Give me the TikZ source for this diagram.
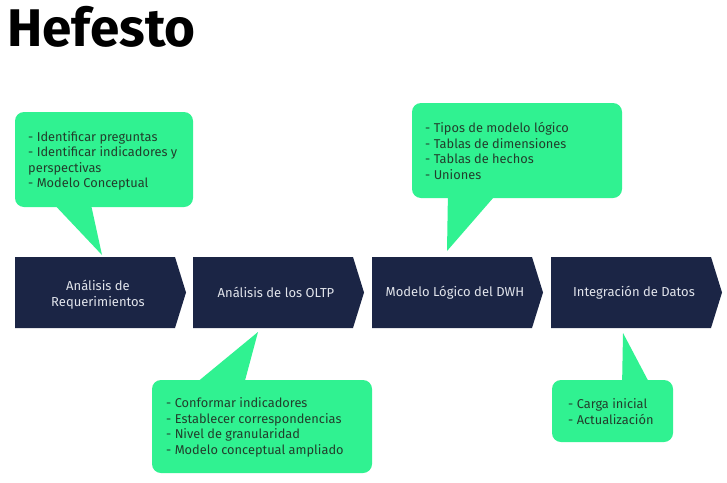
\documentclass[tikz,border=0pt]{standalone}
\usepackage{fontspec}
\setmainfont{Fira Sans}
\begin{document}
\definecolor{navy}{RGB}{27,37,69}
\definecolor{mint}{RGB}{48,242,145}
\definecolor{bubbletext}{RGB}{34,62,44}
\definecolor{steptext}{RGB}{225,228,235}
\tikzset{
  stepshape/.style={fill=navy},
  steplabel/.style={text=steptext, font=\fontsize{13}{16}\selectfont, align=center, inner sep=0pt},
  bubble/.style={fill=mint, rounded corners=9pt},
  tail/.style={fill=mint},
  bubblelabel/.style={text=bubbletext, font=\fontsize{12.8}{15.6}\selectfont, align=left, anchor=north west, inner sep=0pt},
}
\begin{tikzpicture}[x=1pt,y=-1pt]
\useasboundingbox[fill=white] (0,0) rectangle (727,482);

% title
\node[anchor=base west, inner sep=0pt, font=\fontsize{53}{53}\selectfont\bfseries] (title) at (7,46) {Hefesto};

% process steps (arrow-shaped boxes)
\foreach \l/\n in {15/s1,193/s2,372/s3,551/s4}{
  \fill[stepshape] (\l,257) -- (\l+160,257) -- (\l+171,292.5) -- (\l+160,328) -- (\l,328) -- cycle;
  \coordinate (\n) at (\l+83,292.5);
}
\node[steplabel] (t1) at ([yshift=-2pt]s1) {Análisis de\\Requerimientos};
\node[steplabel] (t2) at (s2) {Análisis de los OLTP};
\node[steplabel] (t3) at (s3) {Modelo Lógico del DWH};
\node[steplabel] (t4) at (s4) {Integración de Datos};

% speech bubbles with their pointers
\fill[tail] (50,200) -- (102,255) -- (90,200) -- cycle;
\fill[bubble] (15,112) rectangle (193,207);
\node[bubblelabel] (b1) at (28,131) {- Identificar preguntas\\- Identificar indicadores y\\perspectivas\\- Modelo Conceptual};

\fill[tail] (448,190) -- (447,251) -- (500,190) -- cycle;
\fill[bubble] (412,103) rectangle (622,198);
\node[bubblelabel] (b2) at (425,122) {- Tipos de modelo lógico\\- Tablas de dimensiones\\- Tablas de hechos\\- Uniones};

\fill[tail] (190,388) -- (258,332) -- (243,388) -- cycle;
\fill[bubble] (152,380) rectangle (372,473);
\node[bubblelabel] (b3) at (166,397.5) {- Conformar indicadores\\- Establecer correspondencias\\- Nivel de granularidad\\- Modelo conceptual ampliado};

\fill[tail] (622,388) -- (623,333) -- (652,388) -- cycle;
\fill[bubble] (552,380) rectangle (673,442);
\node[bubblelabel] (b4) at (568,398.5) {- Carga inicial\\- Actualización};
\end{tikzpicture}
\end{document}
